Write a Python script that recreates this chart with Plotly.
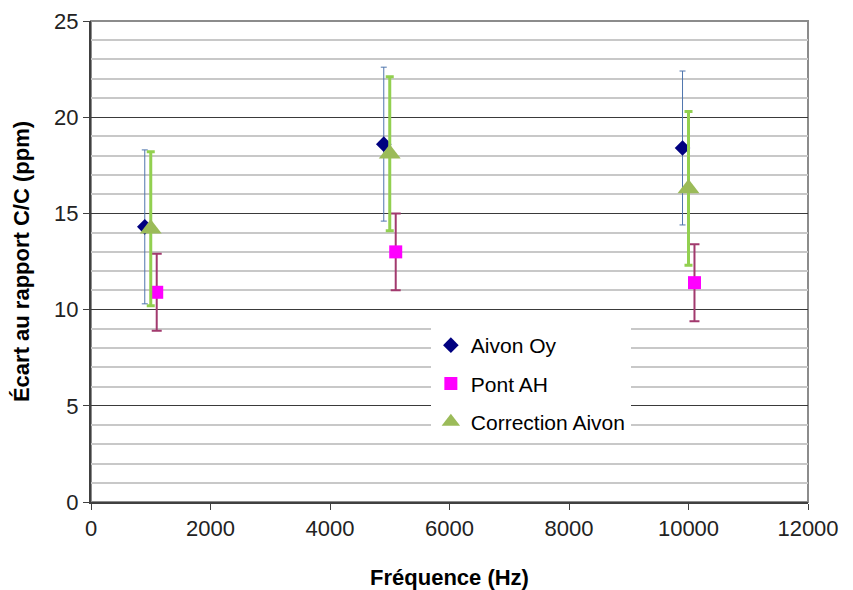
import plotly.graph_objects as go

series_names = ["Aivon Oy", "Pont AH", "Correction Aivon"]
aivon_x = [900, 4900, 9900]
aivon_y = [14.3, 18.6, 18.4]
aivon_err = [4.0, 4.0, 4.0]
pont_x = [1100, 5100, 10100]
pont_y = [10.9, 13.0, 11.4]
pont_err = [2.0, 2.0, 2.0]
corr_x = [1000, 5000, 10000]
corr_y = [14.2, 18.1, 16.3]
corr_err = [4.0, 4.0, 4.0]

fig = go.Figure()
fig.add_trace(go.Scatter(
    x=aivon_x, y=aivon_y, mode="markers", name=series_names[0], legendgroup="a",
    marker=dict(symbol="diamond", size=12, color="#000080"),
    error_y=dict(type="data", array=aivon_err, visible=True, color="#4f75ad", thickness=1, width=3)))
fig.add_trace(go.Scatter(
    x=pont_x, y=pont_y, mode="markers", name=series_names[1], legendgroup="b",
    marker=dict(symbol="square", size=13, color="#ff00ff"),
    error_y=dict(type="data", array=pont_err, visible=True, color="#a23a6e", thickness=2, width=5)))
fig.add_trace(go.Scatter(
    x=corr_x, y=corr_y, mode="markers", name=series_names[2], legendgroup="c",
    marker=dict(symbol="triangle-up", size=19, color="#9bbb59"),
    error_y=dict(type="data", array=corr_err, visible=True, color="#92d050", thickness=3, width=4)))

font_tick = dict(family="Liberation Sans, Arial, sans-serif", size=22, color="#222222")
fig.update_layout(
    width=845, height=582,
    margin=dict(l=83, r=45, t=13, b=88, autoexpand=False),
    paper_bgcolor="white", plot_bgcolor="white",
    font=dict(family="Liberation Sans, Arial, sans-serif", color="black"),
    showlegend=True,
    legend=dict(x=0.474, y=0.368, xanchor="left", yanchor="top",
                bgcolor="white", borderwidth=0,
                font=dict(size=21, color="black"),
                traceorder="grouped", tracegroupgap=8,
                itemwidth=30),
    xaxis=dict(range=[0, 12000], dtick=2000, tick0=0, showgrid=False, tickformat="d",
               ticks="outside", ticklen=6, tickcolor="#404040",
               showline=True, linecolor="#404040", linewidth=2, mirror=False,
               tickfont=font_tick, zeroline=False, automargin=False,
               ticklabeloverflow="allow",
               title=dict(text="<b>Fréquence (Hz)</b>", font=dict(size=22), standoff=36)),
    yaxis=dict(range=[0, 25], dtick=5, tick0=0, showgrid=True,
               gridcolor="#3a3a3a", gridwidth=1,
               ticks="outside", ticklen=6, tickcolor="#404040",
               showline=True, linecolor="#404040", linewidth=2,
               tickfont=font_tick, zeroline=False, automargin=False,
               ticklabeloverflow="allow",
               minor=dict(dtick=1, showgrid=True, gridcolor="#c8c8c8", gridwidth=1.5, ticks=""),
               title=dict(text="<b>Écart au rapport C/C (ppm)</b>", font=dict(size=22), standoff=18)),
)
fig.add_shape(type="rect", xref="paper", yref="paper", x0=0, y0=0, x1=1, y1=1,
              line=dict(color="#8c8c8c", width=2), layer="below")

fig.write_html("out.html")
